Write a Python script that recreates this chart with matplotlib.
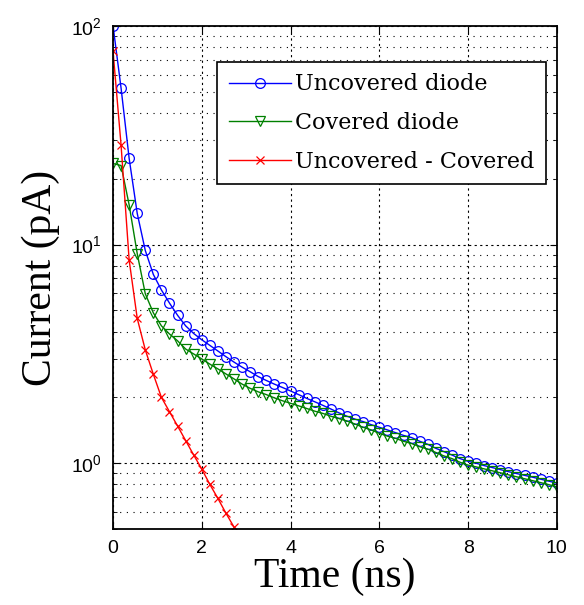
import numpy as np
import matplotlib
matplotlib.use("Agg")
import matplotlib.pyplot as plt
from matplotlib.ticker import LogLocator, NullFormatter

plt.rcParams["mathtext.fontset"] = "custom"
plt.rcParams["mathtext.rm"] = "Liberation Sans"
plt.rcParams["mathtext.it"] = "Liberation Sans:italic"
plt.rcParams["mathtext.bf"] = "Liberation Sans:bold"

# -------------------------
# Data
# -------------------------
time_ns = np.linspace(0, 10, 56)

uncovered = [100.5, 52, 24.8, 13.9, 9.4, 7.3, 6.2, 5.4, 4.75, 4.25, 3.92, 3.67,
             3.46, 3.26, 3.07, 2.90, 2.75, 2.62, 2.49, 2.39, 2.30, 2.22, 2.14,
             2.06, 1.98, 1.91, 1.84, 1.77, 1.70, 1.64, 1.59, 1.55, 1.50, 1.46,
             1.42, 1.38, 1.34, 1.31, 1.26, 1.22, 1.17, 1.13, 1.09, 1.05, 1.02,
             1.00, 0.975, 0.955, 0.935, 0.915, 0.897, 0.88, 0.863, 0.845, 0.828, 0.81]

covered = [23.5, 23.0, 15.2, 9.1, 5.96, 4.87, 4.25, 3.9, 3.63, 3.33, 3.16, 3.0,
           2.84, 2.70, 2.56, 2.43, 2.30, 2.20, 2.12, 2.06, 1.99, 1.93, 1.88,
           1.83, 1.78, 1.73, 1.69, 1.64, 1.60, 1.56, 1.51, 1.46, 1.42, 1.37,
           1.33, 1.30, 1.26, 1.23, 1.19, 1.16, 1.12, 1.08, 1.05, 1.01, 0.98,
           0.962, 0.942, 0.923, 0.904, 0.885, 0.867, 0.849, 0.832, 0.815, 0.798, 0.78]

# difference curve leaves the axes after ~2.8 ns
difference = [77, 28.5, 8.5, 4.6, 3.3, 2.55, 2.0, 1.72, 1.48, 1.27, 1.09, 0.94,
              0.80, 0.69, 0.59, 0.51, 0.44]

labels = ["Uncovered diode", "Covered diode", "Uncovered - Covered"]
colors = ["#0000ff", "#008000", "#ff0000"]
markers = ["o", "v", "x"]

x_ticks = [0, 2, 4, 6, 8, 10]

# -------------------------
# Figure
# -------------------------
fig = plt.figure(figsize=(5.84, 6.05), dpi=100)
ax = fig.add_axes([0.1935, 0.1256, 0.760, 0.8314])

series = [uncovered, covered, difference]
for vals, lab, col, mk in zip(series, labels, colors, markers):
    t = time_ns[:len(vals)]
    ax.plot(t, vals, color=col, marker=mk, markersize=7 if mk != "x" else 5.5,
            markerfacecolor="none", markeredgewidth=0.9, linewidth=1.0, label=lab)

ax.set_yscale("log")
ax.set_xlim(0, 10)
ax.set_ylim(0.5, 100)
ax.set_xticks(x_ticks)
ax.yaxis.set_major_locator(LogLocator(base=10))
ax.yaxis.set_minor_locator(LogLocator(base=10, subs=np.arange(2, 10)))
ax.yaxis.set_minor_formatter(NullFormatter())

# MATLAB-like grid and box
ax.grid(True, which="major", color="black", linestyle=(0, (2, 3)), linewidth=0.8)
ax.grid(True, which="minor", axis="y", color="black", linestyle=(0, (1, 5)), linewidth=0.8)
ax.tick_params(which="both", direction="in", top=True, right=True,
               labelsize=14, pad=8)
ax.tick_params(which="major", length=5)
ax.tick_params(which="minor", length=3)
for sp in ax.spines.values():
    sp.set_linewidth(1.3)

for lbl in ax.get_xticklabels() + ax.get_yticklabels():
    lbl.set_family("Liberation Sans")

ax.set_xlabel("Time (ns)", family="Liberation Serif", fontsize=30, labelpad=0)
ax.set_ylabel("Current (pA)", family="Liberation Serif", fontsize=30, labelpad=8)

leg = ax.legend(loc="upper right", bbox_to_anchor=(0.975, 0.928),
                prop={"family": "DejaVu Serif", "size": 16},
                frameon=True, fancybox=False, framealpha=1, edgecolor="black",
                handlelength=2.8, handletextpad=0.2, labelspacing=0.75,
                borderpad=0.5, borderaxespad=0)
leg.get_frame().set_linewidth(1.2)

fig.savefig("out.png", dpi=100)
